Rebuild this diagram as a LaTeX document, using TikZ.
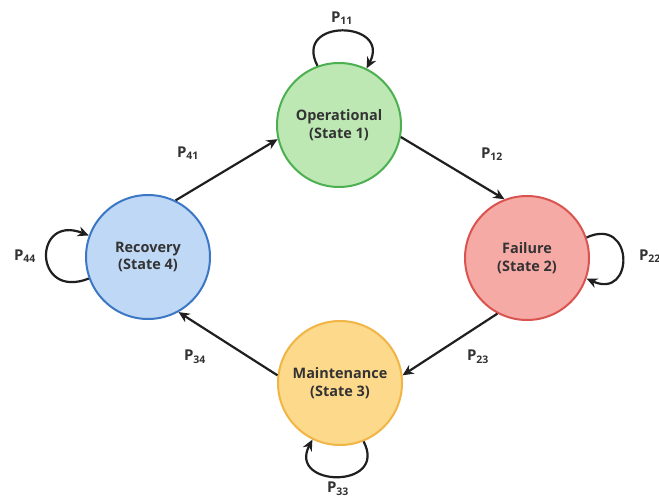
\documentclass[tikz,border=0pt]{standalone}
\usepackage{fontspec}
\setmainfont{Open Sans}
\usetikzlibrary{arrows.meta}
\definecolor{txt}{HTML}{333333}
\definecolor{gfill}{HTML}{BDE8B4}
\definecolor{gline}{HTML}{4CAF50}
\definecolor{rfill}{HTML}{F6AAA6}
\definecolor{rline}{HTML}{D9534F}
\definecolor{bfill}{HTML}{BFD8F5}
\definecolor{bline}{HTML}{3B77C4}
\definecolor{yfill}{HTML}{FDD98C}
\definecolor{yline}{HTML}{F0B545}
\tikzset{
  statenode/.style={circle, minimum size=124bp, inner sep=0pt, line width=2bp, align=center,
    font=\fontsize{14.5}{18}\selectfont\bfseries, text=txt},
  arr/.style={line width=2.2bp, draw=black!88, -{Stealth[length=11bp,width=10bp]}},
  plabel/.style={font=\fontsize{15}{17}\selectfont\bfseries, text=txt, inner sep=0pt}
}
\newcommand{\pl}[1]{P\textsubscript{#1}}
\begin{document}
\begin{tikzpicture}[x=1bp,y=-1bp]
\useasboundingbox[fill=white] (0,0) rectangle (659,500);
\node[statenode, fill=gfill, draw=gline] (op) at (339,125) {Operational\\(State 1)};
\node[statenode, fill=rfill, draw=rline] (fail) at (527,258) {Failure\\(State 2)};
\node[statenode, fill=yfill, draw=yline] (maint) at (340,383) {Maintenance\\(State 3)};
\node[statenode, fill=bfill, draw=bline] (rec) at (148,257) {Recovery\\(State 4)};

\draw[arr] (op.-11) -- (fail.111);
\draw[arr] (fail.-118) -- (maint.7);
\draw[arr] (maint.173) -- (rec.-61);
\draw[arr] (rec.64) -- (op.193);

\draw[arr] (op.110) .. controls +(-25,-48) and +(25,-48) .. (op.64);
\draw[arr] (fail.19) .. controls +(48,-22) and +(48,22) .. (fail.-19);
\draw[arr] (maint.-68) .. controls +(25,48) and +(-25,48) .. (maint.-116);
\draw[arr] (rec.200) .. controls +(-56,22) and +(-56,-22) .. (rec.160);

\node[plabel] (l11) at (342,18) {\pl{11}};
\node[plabel] (l12) at (492,154) {\pl{12}};
\node[plabel] (l22) at (650,256) {\pl{22}};
\node[plabel] (l23) at (478,357) {\pl{23}};
\node[plabel] (l33) at (338,489) {\pl{33}};
\node[plabel] (l34) at (195,357) {\pl{34}};
\node[plabel] (l41) at (188,153) {\pl{41}};
\node[plabel] (l44) at (25,256) {\pl{44}};
\end{tikzpicture}
\end{document}
